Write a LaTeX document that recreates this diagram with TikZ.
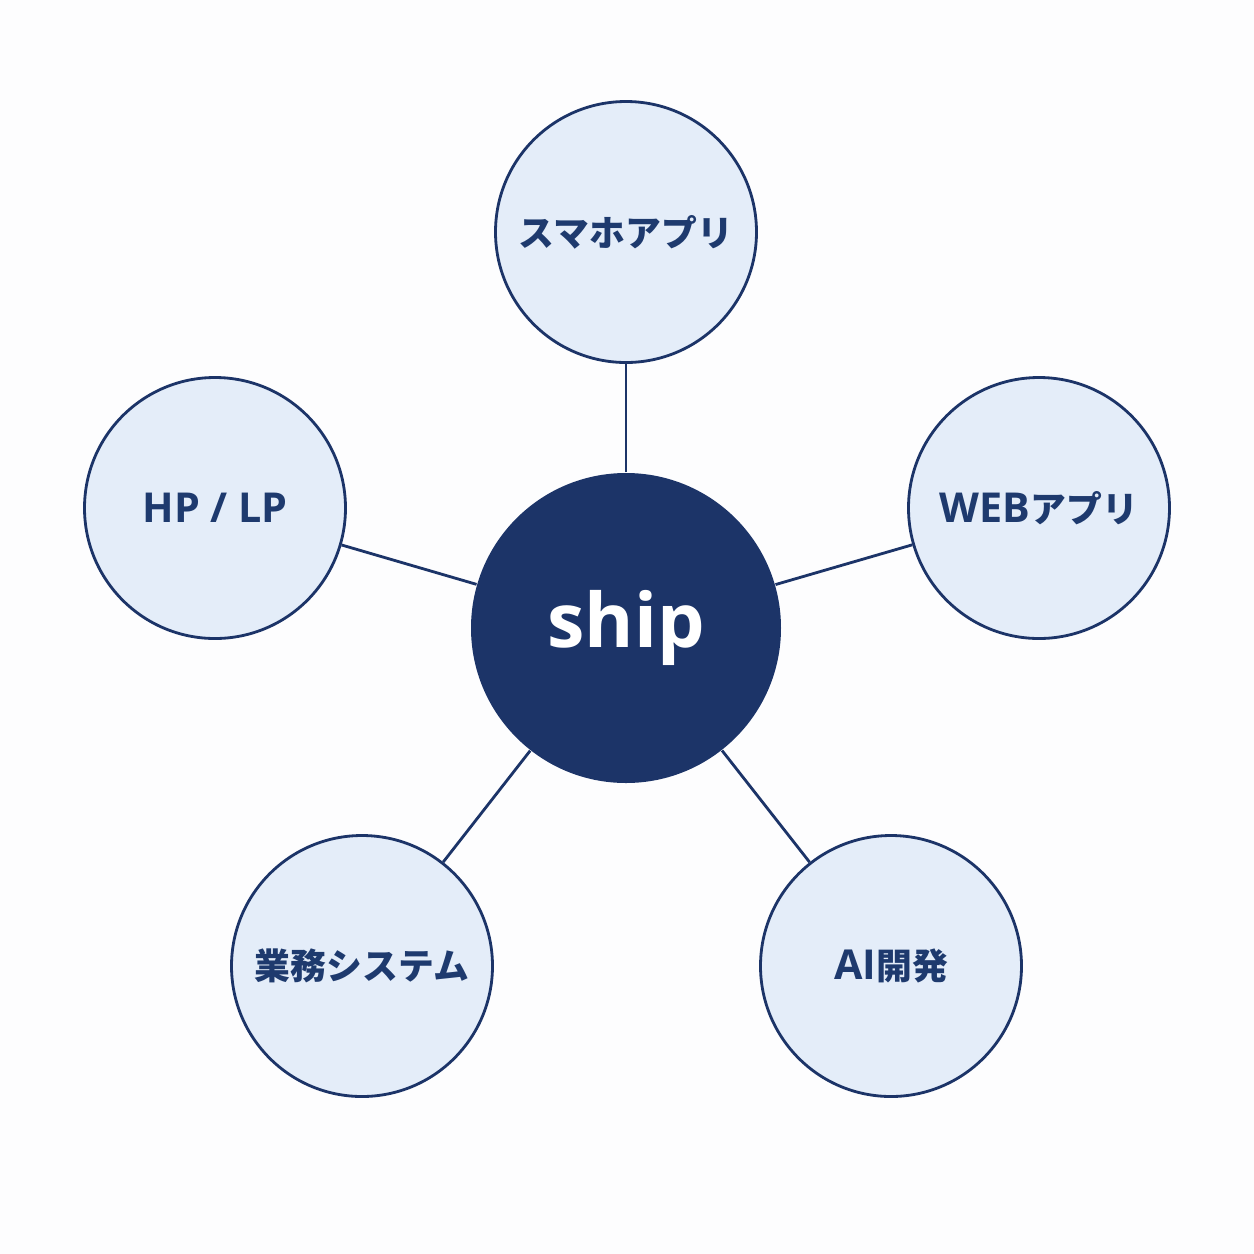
\documentclass[tikz,border=0pt]{standalone}
\usepackage{fontspec}
\setmainfont{Noto Sans CJK JP}
\newfontfamily\latinfont{Open Sans}[Scale=1.15]
\usetikzlibrary{positioning}
\definecolor{shipnavy}{HTML}{1C3468}
\definecolor{shiplight}{HTML}{E4EDF9}
\definecolor{shiptext}{HTML}{1E3A6E}
\definecolor{paper}{HTML}{FDFDFE}

\begin{document}
\begin{tikzpicture}[
    x=0.1mm, y=-0.1mm,
    hub/.style={circle, fill=shipnavy, minimum size=31mm, inner sep=0pt, text=white, font=\fontsize{18.6}{22}\selectfont\latinfont\bfseries},
    area/.style={circle, draw=shipnavy, line width=0.8pt, fill=shiplight, minimum size=26.1mm, inner sep=0pt, text=shiptext, font=\fontsize{10.2}{12}\selectfont\bfseries},
    link/.style={draw=shipnavy, line width=0.8pt}
]
\fill[paper] (0,0) rectangle (1254,1254);

\node[hub] (ship) at (626,628) {ship};
\node[area] (mobile) at (626,232) {スマホアプリ};
\node[area] (hplp) at (215,508) {\latinfont\bfseries HP / LP};
\node[area] (webapp) at (1039,508) {{\latinfont\bfseries WEB}アプリ};
\node[area] (biz) at (362,966) {業務システム};
\node[area] (ai) at (891,966) {{\latinfont\bfseries AI}開発};

\draw[link] (ship) -- (mobile);
\draw[link] (ship) -- (hplp);
\draw[link] (ship) -- (webapp);
\draw[link] (ship) -- (biz);
\draw[link] (ship) -- (ai);
\end{tikzpicture}
\end{document}
